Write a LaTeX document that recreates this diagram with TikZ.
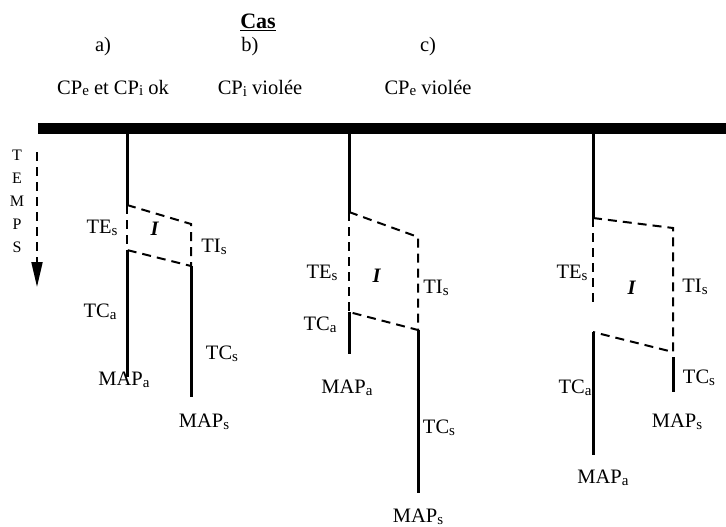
\documentclass[tikz,border=0pt]{standalone}
\usepackage{fontspec}
\setmainfont{Liberation Serif}
\usetikzlibrary{arrows.meta}
\newcommand\ind[1]{\raisebox{-.2ex}{\fontsize{15}{15}\selectfont #1}}
\begin{document}
\begin{tikzpicture}[x=1pt,y=-1pt,
  every node/.style={font=\fontsize{20.5}{22}\selectfont},
  trait/.style={line width=3pt},
  tiret/.style={line width=2pt,dash pattern=on 9pt off 6pt}]
\useasboundingbox (0,0) rectangle (726,527);
% titres
\node[font=\fontsize{22}{24}\selectfont] (cas) at (258,22) {\textbf{\underline{Cas}}};
\node (ta) at (103,47) {a)};
\node (tb) at (250,47) {b)};
\node (tc) at (428,47) {c)};
\node (ha) at (113,88) {CP\ind{e} et CP\ind{i} ok};
\node (hb) at (260,88) {CP\ind{i} violée};
\node (hc) at (428,88) {CP\ind{e} violée};
% barre
\coordinate (g) at (38,128);
\coordinate (d) at (726,128);
\draw[line width=11pt] (g) -- (d);
% temps
\foreach \l [count=\i] in {T,E,M,P,S}
  \node[font=\fontsize{16}{16}\selectfont] (t\i) at (17,132+23*\i) {\l};
\coordinate (tA) at (37,152);
\coordinate (tB) at (37,287);
\draw[tiret,-{Triangle[length=25pt,width=11pt]}] (tA) -- (tB);
% cas a)
\coordinate (a0) at (127,133);
\coordinate (a1) at (127,205);
\coordinate (a2) at (127,250);
\coordinate (a3) at (127,377);
\coordinate (a4) at (191,224);
\coordinate (a5) at (191,266);
\coordinate (a6) at (191,397);
\draw[trait] (a0) -- (a1);
\draw[tiret] (a1) -- (a2);
\draw[trait] (a2) -- (a3);
\draw[tiret] (a1) -- (a4) -- (a5) -- (a2);
\draw[trait] (a5) -- (a6);
\node (TEa) at (102,228) {TE\ind{s}};
\node (Ia) at (155,229) {\textbf{\textit{I}}};
\node (TIa) at (214,247) {TI\ind{s}};
\node (TCaa) at (100,312) {TC\ind{a}};
\node (TCsa) at (222,354) {TC\ind{s}};
\node (MAPaa) at (124,380) {MAP\ind{a}};
\node (MAPsa) at (204,422) {MAP\ind{s}};
% cas b)
\coordinate (b0) at (349,133);
\coordinate (b1) at (349,212);
\coordinate (b2) at (349,312);
\coordinate (b3) at (349,354);
\coordinate (b4) at (418,237);
\coordinate (b5) at (418,330);
\coordinate (b6) at (418,493);
\draw[trait] (b0) -- (b1);
\draw[tiret] (b1) -- (b2);
\draw[trait] (b2) -- (b3);
\draw[tiret] (b1) -- (b4) -- (b5) -- (b2);
\draw[trait] (b5) -- (b6);
\node (TEb) at (322,273) {TE\ind{s}};
\node (Ib) at (377,276) {\textbf{\textit{I}}};
\node (TIb) at (436,288) {TI\ind{s}};
\node (TCab) at (320,325) {TC\ind{a}};
\node (MAPab) at (347,388) {MAP\ind{a}};
\node (TCsb) at (439,428) {TC\ind{s}};
\node (MAPsb) at (418,517) {MAP\ind{s}};
% cas c)
\coordinate (c0) at (593,133);
\coordinate (c1) at (593,218);
\coordinate (c2) at (593,303);
\coordinate (c3) at (593,332);
\coordinate (c4) at (593,455);
\coordinate (c5) at (673,228);
\coordinate (c6) at (673,352);
\coordinate (c7) at (673,357);
\coordinate (c8) at (673,392);
\draw[trait] (c0) -- (c1);
\draw[tiret] (c1) -- (c2);
\draw[trait] (c3) -- (c4);
\draw[tiret] (c1) -- (c5) -- (c6) -- (c3);
\draw[trait] (c7) -- (c8);
\node (TEc) at (572,273) {TE\ind{s}};
\node (Ic) at (632,288) {\textbf{\textit{I}}};
\node (TIc) at (695,287) {TI\ind{s}};
\node (TCac) at (575,388) {TC\ind{a}};
\node (TCsc) at (699,378) {TC\ind{s}};
\node (MAPsc) at (677,422) {MAP\ind{s}};
\node (MAPac) at (603,478) {MAP\ind{a}};
\end{tikzpicture}
\end{document}
